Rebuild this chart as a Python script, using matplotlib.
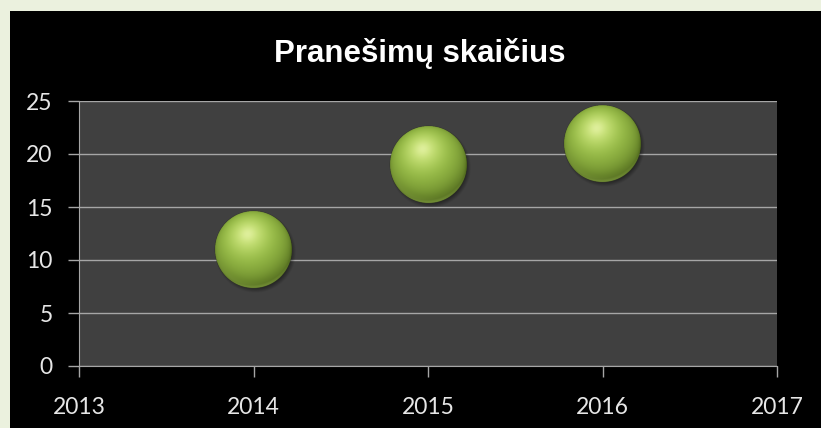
import matplotlib
matplotlib.use('Agg')
import matplotlib.pyplot as plt
import numpy as np
from matplotlib.patches import Rectangle

# duomenys
years = [2014, 2015, 2016]
counts = [11, 19, 21]
title = 'Pranešimų skaičius'
x_ticks = [2013, 2014, 2015, 2016, 2017]
y_ticks = [0, 5, 10, 15, 20, 25]

BORDER = '#EBF1DE'
PLOT_BG = '#404040'
GRID = '#a6a6a6'
TXT = '#e6e6e6'
R_PX = 38.5   # rutulio spindulys pikseliais


def sphere_rgba(n=240):
    # rutulys su šešėliu, RGBA
    pad = 1.2
    s = np.linspace(-pad, pad, n)
    u, v = np.meshgrid(s, s[::-1])
    r = np.sqrt(u**2 + v**2)
    z = np.sqrt(np.clip(1 - r**2, 0, 1))
    L = np.array([-0.15, 0.40, 0.90])
    L = L / np.linalg.norm(L)
    diff = np.clip(u * L[0] + v * L[1] + z * L[2], 0, 1)
    dark = np.array([0.30, 0.40, 0.10])
    base = np.array([0.63, 0.78, 0.30])
    hi = np.array([0.88, 0.95, 0.58])
    col = dark + (base - dark) * diff[..., None] ** 0.7
    col = col + (hi - col) * (diff ** 9)[..., None] * 0.75
    col = col + (np.array([0.95, 0.98, 0.75]) - col) * (diff ** 60)[..., None] * 0.4
    # atspindys apačioje
    rim = np.exp(-((1 - r) / 0.12) ** 2) * np.clip(-v, 0, 1) * 0.4
    col = col + (np.array([0.68, 0.80, 0.38]) - col) * rim[..., None]
    col = np.clip(col, 0, 1)
    px = 2 * pad / n
    a_sph = np.clip((1 - r) / px + 0.5, 0, 1)
    # šešėlis
    rs = np.sqrt((u - 0.05)**2 + (v + 0.07)**2)
    a_sh = 0.5 * np.clip(1 - (rs - 0.9) / 0.15, 0, 1)
    a_sh = np.where(rs < 1.05, a_sh, 0)
    rgba = np.zeros((n, n, 4))
    alpha = a_sph + a_sh * (1 - a_sph)
    rgba[..., :3] = col * a_sph[..., None] / np.maximum(alpha, 1e-6)[..., None]
    rgba[..., 3] = alpha
    return rgba, pad


fig = plt.figure(figsize=(8.21, 4.28), dpi=100, facecolor='black')
# šviesus rėmelis kairėje ir viršuje
fig.patches.append(Rectangle((0, 0), 10 / 821, 1, transform=fig.transFigure,
                             color=BORDER, lw=0, zorder=-5))
fig.patches.append(Rectangle((0, (428 - 11) / 428), 1.01, 11 / 428 + 0.01,
                             transform=fig.transFigure, color=BORDER, lw=0,
                             zorder=-5))

ax = fig.add_axes([79 / 821, 62 / 428, 698 / 821, 265 / 428])
ax.set_facecolor(PLOT_BG)
ax.set_xlim(2013, 2017)
ax.set_ylim(0, 25)
ax.set_xticks(x_ticks)
ax.set_yticks(y_ticks)
ax.grid(True, axis='y', color=GRID, lw=1)
ax.set_axisbelow(True)
for side in ['top', 'right']:
    ax.spines[side].set_visible(False)
for side in ['left', 'bottom']:
    ax.spines[side].set_color(GRID)
ax.tick_params(colors=GRID, length=8, width=1, labelcolor=TXT,
               labelsize=16.5, pad=11)
for lab in ax.get_xticklabels() + ax.get_yticklabels():
    lab.set_family('Lato')
ax.tick_params(axis='x', pad=14)

img, pad = sphere_rgba()
for x, y in zip(years, counts):
    cx, cy = ax.transData.transform((x, y))
    R = R_PX * pad
    (x0, y0) = ax.transData.inverted().transform((cx - R, cy - R))
    (x1, y1) = ax.transData.inverted().transform((cx + R, cy + R))
    ax.imshow(img, extent=(x0, x1, y0, y1), aspect='auto', zorder=3,
              interpolation='antialiased')
ax.set_xlim(2013, 2017)
ax.set_ylim(0, 25)

fig.text(420 / 821, 366 / 428, title, color='white', fontsize=22.5,
         fontweight='bold', family='Liberation Sans', ha='center',
         va='baseline', zorder=5)

fig.savefig('out.png', dpi=100, facecolor='black')
